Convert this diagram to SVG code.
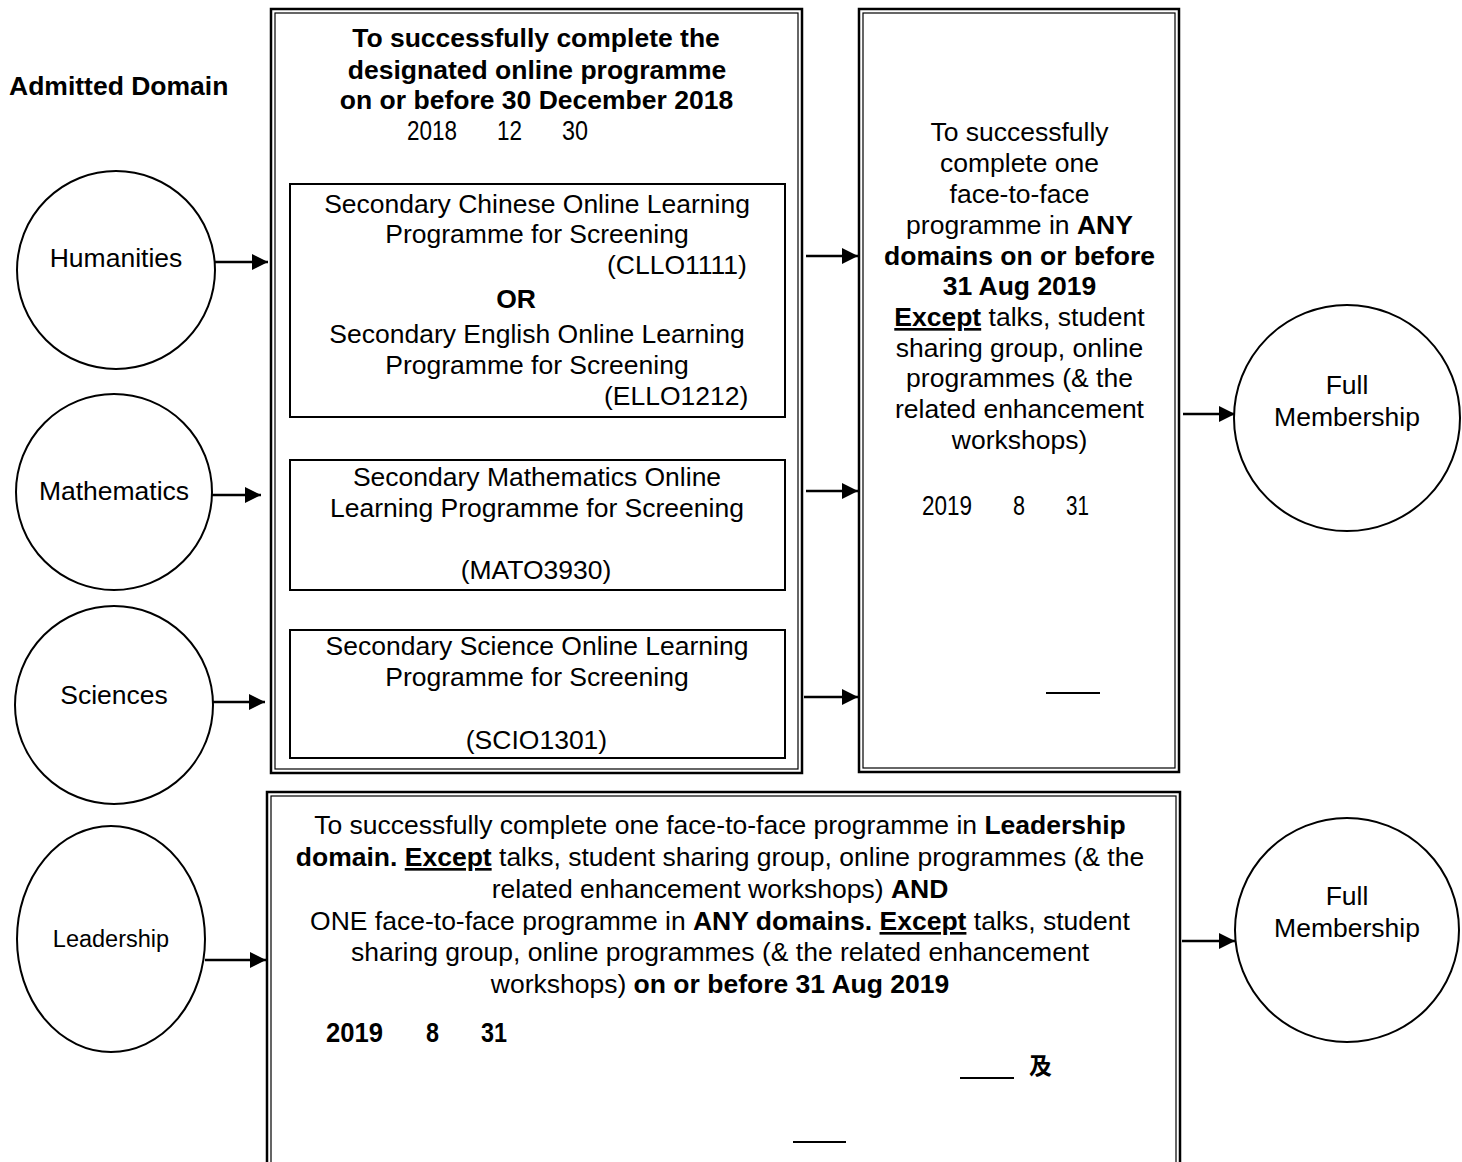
<svg xmlns="http://www.w3.org/2000/svg" width="1462" height="1162" viewBox="0 0 1462 1162">
<style>
text{font-family:"Liberation Sans",Arial,sans-serif;font-size:26.5px;fill:#000}
.b{font-weight:bold}
.c{text-anchor:middle}
.u{text-decoration:underline}
.num{font-size:28px}
.o{fill:none;stroke:#000;stroke-width:2.5}
.i{fill:none;stroke:#000;stroke-width:1.2}
.box{fill:#fff;stroke:#000;stroke-width:2}
.circ{fill:#fff;stroke:#000;stroke-width:2}
.con line{stroke:#000;stroke-width:2.5}
</style>
<defs>
<marker id="ah" markerUnits="userSpaceOnUse" markerWidth="16" markerHeight="16" refX="16" refY="8" orient="auto">
<path d="M0,0 L16,8 L0,16 Z" fill="#000"/>
</marker>
</defs>
<rect width="1462" height="1162" fill="#fff"/>

<text class="b" x="9" y="95">Admitted Domain</text>

<g id="mid-box">
<rect class="o" x="271" y="9" width="531" height="764"/>
<rect class="i" x="275" y="13" width="523" height="756"/>
<text class="b c" x="536" y="47">To successfully complete the</text>
<text class="b c" x="537" y="79">designated online programme</text>
<text class="b c" x="536.5" y="109">on or before 30 December 2018</text>
<text class="num" x="407" y="140" textLength="50" lengthAdjust="spacingAndGlyphs">2018</text>
<text class="num" x="497" y="140" textLength="25" lengthAdjust="spacingAndGlyphs">12</text>
<text class="num" x="562" y="140" textLength="26" lengthAdjust="spacingAndGlyphs">30</text>
</g>

<g id="box-chinese-english">
<rect class="box" x="290" y="184" width="495" height="233"/>
<text class="c" x="537" y="213">Secondary Chinese Online Learning</text>
<text class="c" x="537" y="243">Programme for Screening</text>
<text x="607" y="274">(CLLO1111)</text>
<text class="b c" x="516" y="308">OR</text>
<text class="c" x="537" y="343">Secondary English Online Learning</text>
<text class="c" x="537" y="374">Programme for Screening</text>
<text x="604" y="405">(ELLO1212)</text>
</g>

<g id="box-maths">
<rect class="box" x="290" y="460" width="495" height="130"/>
<text class="c" x="537" y="486">Secondary Mathematics Online</text>
<text class="c" x="537" y="517">Learning Programme for Screening</text>
<text class="c" x="536" y="579">(MATO3930)</text>
</g>

<g id="box-science">
<rect class="box" x="290" y="630" width="495" height="128"/>
<text class="c" x="537" y="655">Secondary Science Online Learning</text>
<text class="c" x="537" y="686">Programme for Screening</text>
<text class="c" x="536.5" y="749">(SCIO1301)</text>
</g>

<g id="right-box">
<rect class="o" x="859" y="9" width="320" height="763"/>
<rect class="i" x="863" y="13" width="312" height="755"/>
<text class="c" x="1019.5" y="141">To successfully</text>
<text class="c" x="1019.5" y="172">complete one</text>
<text class="c" x="1019.5" y="203">face-to-face</text>
<text class="c" x="1019.5" y="234">programme in <tspan class="b">ANY</tspan></text>
<text class="c b" x="1019.5" y="265">domains on or before</text>
<text class="c b" x="1019.5" y="295">31 Aug 2019</text>
<text class="c" x="1019.5" y="326"><tspan class="b u">Except</tspan> talks, student</text>
<text class="c" x="1019.5" y="357">sharing group, online</text>
<text class="c" x="1019.5" y="387">programmes (&amp; the</text>
<text class="c" x="1019.5" y="418">related enhancement</text>
<text class="c" x="1019.5" y="449">workshops)</text>
<text class="num" x="922" y="515" textLength="50" lengthAdjust="spacingAndGlyphs">2019</text>
<text class="num" x="1013" y="515" textLength="12" lengthAdjust="spacingAndGlyphs">8</text>
<text class="num" x="1066" y="515" textLength="23" lengthAdjust="spacingAndGlyphs">31</text>
<line x1="1046" y1="693" x2="1100" y2="693" stroke="#000" stroke-width="2"/>
</g>

<g id="bottom-box">
<rect class="o" x="267" y="792" width="913" height="400"/>
<rect class="i" x="271" y="796" width="905" height="392"/>
<text class="c" x="720" y="834">To successfully complete one face-to-face programme in <tspan class="b">Leadership</tspan></text>
<text class="c" x="720" y="866"><tspan class="b">domain. </tspan><tspan class="b u">Except</tspan> talks, student sharing group, online programmes (&amp; the</text>
<text class="c" x="720" y="898">related enhancement workshops) <tspan class="b">AND</tspan></text>
<text class="c" x="720" y="930">ONE face-to-face programme in <tspan class="b">ANY domains. </tspan><tspan class="b u">Except</tspan> talks, student</text>
<text class="c" x="720" y="961">sharing group, online programmes (&amp; the related enhancement</text>
<text class="c" x="720" y="993">workshops) <tspan class="b">on or before 31 Aug 2019</tspan></text>
<text class="num b" x="326" y="1042" textLength="57" lengthAdjust="spacingAndGlyphs">2019</text>
<text class="num b" x="426" y="1042" textLength="13" lengthAdjust="spacingAndGlyphs">8</text>
<text class="num b" x="481" y="1042" textLength="26" lengthAdjust="spacingAndGlyphs">31</text>
<line x1="960" y1="1078" x2="1014" y2="1078" stroke="#000" stroke-width="2"/>
<text class="b" x="1029" y="1074" style="font-family:'Noto Sans CJK TC','Noto Sans CJK SC',sans-serif;font-size:23px">及</text>
<line x1="793" y1="1142" x2="846" y2="1142" stroke="#000" stroke-width="2"/>
</g>

<g id="humanities">
<circle class="circ" cx="116" cy="270" r="99"/>
<text class="c" x="116" y="267">Humanities</text>
</g>
<g id="mathematics">
<circle class="circ" cx="114" cy="492" r="98"/>
<text class="c" x="114" y="500">Mathematics</text>
</g>
<g id="sciences">
<circle class="circ" cx="114" cy="705" r="99"/>
<text class="c" x="114" y="704">Sciences</text>
</g>
<g id="leadership">
<ellipse class="circ" cx="111" cy="939" rx="94" ry="113"/>
<text class="c" x="111" y="947" style="font-size:23.5px">Leadership</text>
</g>
<g id="full-membership-1">
<circle class="circ" cx="1347" cy="418" r="113"/>
<text class="c" x="1347" y="394">Full</text>
<text class="c" x="1347" y="426">Membership</text>
</g>
<g id="full-membership-2">
<circle class="circ" cx="1347" cy="930" r="112"/>
<text class="c" x="1347" y="905">Full</text>
<text class="c" x="1347" y="937">Membership</text>
</g>

<g id="connectors" class="con">
<line x1="215" y1="262" x2="268" y2="262" marker-end="url(#ah)"/>
<line x1="212" y1="495" x2="261" y2="495" marker-end="url(#ah)"/>
<line x1="213" y1="702" x2="265" y2="702" marker-end="url(#ah)"/>
<line x1="205" y1="960" x2="266" y2="960" marker-end="url(#ah)"/>
<line x1="806" y1="256" x2="858" y2="256" marker-end="url(#ah)"/>
<line x1="806" y1="491" x2="858" y2="491" marker-end="url(#ah)"/>
<line x1="804" y1="697" x2="858" y2="697" marker-end="url(#ah)"/>
<line x1="1183" y1="414" x2="1235" y2="414" marker-end="url(#ah)"/>
<line x1="1182" y1="941" x2="1235" y2="941" marker-end="url(#ah)"/>
</g>
</svg>
